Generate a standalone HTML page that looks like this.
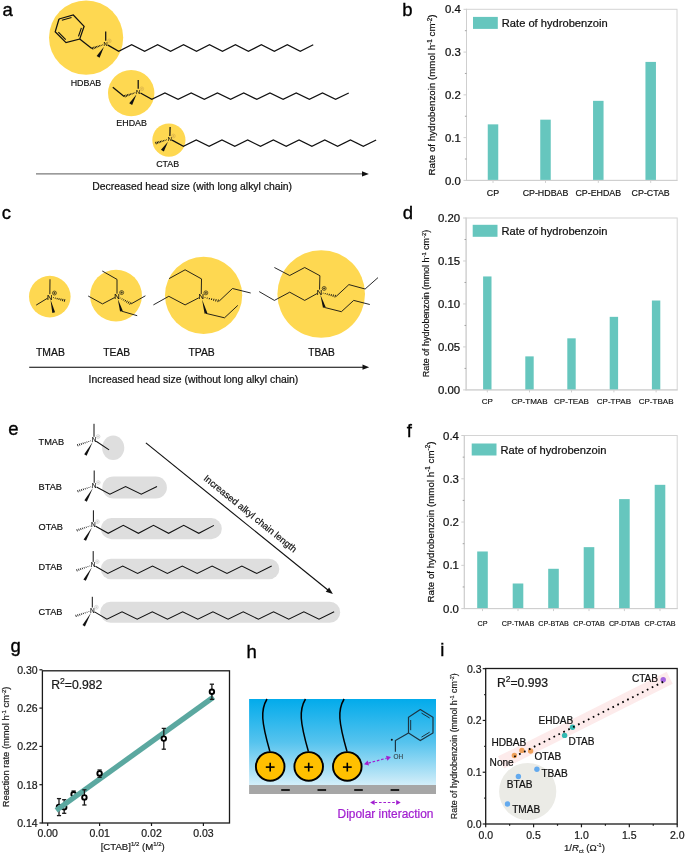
<!DOCTYPE html>
<html><head><meta charset="utf-8"><style>
html,body{margin:0;padding:0;background:#fff;}
svg{display:block;font-family:"Liberation Sans", sans-serif;will-change:transform;}
</style></head><body>
<svg width="685" height="856" viewBox="0 0 685 856">
<text x="2.6" y="16.1" font-size="18.5" text-anchor="start" fill="#000" font-weight="normal"  stroke="#000" stroke-width="0.35">a</text>
<circle cx="86.1" cy="37.6" r="37.1" fill="#FED851" />
<circle cx="131.2" cy="93.1" r="23.2" fill="#FED851" />
<circle cx="168.9" cy="140.1" r="16.6" fill="#FED851" />
<polyline points="59,19 73.3,15 84.1,26.3 79.7,39.1 66,42.6 55.2,31.8 59,19" fill="none" stroke="#111" stroke-width="1.25" stroke-linejoin="miter" />
<line x1="61.84" y1="20.27" x2="71.54" y2="17.56" stroke="#111" stroke-width="1.15" />
<line x1="81.38" y1="27.86" x2="78.47" y2="36.34" stroke="#111" stroke-width="1.15" />
<line x1="65.72" y1="39.57" x2="58.34" y2="32.2" stroke="#111" stroke-width="1.15" />
<line x1="79.7" y1="39.1" x2="91.8" y2="48.6" stroke="#111" stroke-width="1.25" />
<line x1="102.41" y1="44.55" x2="102.65" y2="45.24" stroke="#111" stroke-width="1" />
<line x1="100.94" y1="44.93" x2="101.26" y2="45.85" stroke="#111" stroke-width="1" />
<line x1="99.47" y1="45.3" x2="99.87" y2="46.46" stroke="#111" stroke-width="1" />
<line x1="98" y1="45.68" x2="98.48" y2="47.07" stroke="#111" stroke-width="1" />
<line x1="96.52" y1="46.06" x2="97.09" y2="47.69" stroke="#111" stroke-width="1" />
<line x1="95.05" y1="46.43" x2="95.7" y2="48.3" stroke="#111" stroke-width="1" />
<line x1="93.58" y1="46.81" x2="94.31" y2="48.91" stroke="#111" stroke-width="1" />
<line x1="92.11" y1="47.18" x2="92.92" y2="49.52" stroke="#111" stroke-width="1" />
<line x1="105.7" y1="40.8" x2="105.7" y2="31.4" stroke="#111" stroke-width="1.25" />
<polygon points="103.99,46.74 96.63,56.05 99.57,57.75" fill="#111" />
<polyline points="107.94,45.11 118.7,51.4 131.67,44.8 144.64,51.4 157.61,44.8 170.58,51.4 183.55,44.8 196.52,51.4 209.49,44.8 222.46,51.4 235.43,44.8 248.4,51.4 261.37,44.8 274.34,51.4 287.31,44.8 300.28,51.4 313.25,44.8" fill="none" stroke="#111" stroke-width="1.25" stroke-linejoin="miter" />
<text x="105.7" y="45.89" font-size="5.8" text-anchor="middle" fill="#111" font-weight="normal"  stroke="#111" stroke-width="0.122">N</text>
<circle cx="109.3" cy="40.9" r="1.9" fill="none" stroke="#c9a24a" stroke-width="0.45"/>
<line x1="108.16" y1="40.9" x2="110.44" y2="40.9" stroke="#c9a24a" stroke-width="0.45" />
<line x1="109.3" y1="39.76" x2="109.3" y2="42.04" stroke="#c9a24a" stroke-width="0.45" />
<text x="70.7" y="85.8" font-size="8.9" text-anchor="start" fill="#111" font-weight="normal"  stroke="#111" stroke-width="0.187">HDBAB</text>
<line x1="138.2" y1="88.7" x2="138.2" y2="80" stroke="#111" stroke-width="1.25" />
<line x1="134.89" y1="92.42" x2="135.12" y2="93.11" stroke="#111" stroke-width="1" />
<line x1="133.4" y1="92.79" x2="133.71" y2="93.71" stroke="#111" stroke-width="1" />
<line x1="131.9" y1="93.15" x2="132.29" y2="94.32" stroke="#111" stroke-width="1" />
<line x1="130.41" y1="93.52" x2="130.88" y2="94.92" stroke="#111" stroke-width="1" />
<line x1="128.92" y1="93.89" x2="129.46" y2="95.52" stroke="#111" stroke-width="1" />
<line x1="127.42" y1="94.25" x2="128.05" y2="96.13" stroke="#111" stroke-width="1" />
<line x1="125.93" y1="94.62" x2="126.63" y2="96.73" stroke="#111" stroke-width="1" />
<line x1="124.44" y1="94.98" x2="125.22" y2="97.33" stroke="#111" stroke-width="1" />
<line x1="124.1" y1="96.4" x2="112.8" y2="87.2" stroke="#111" stroke-width="1.25" />
<polygon points="136.44,94.61 129.25,103.22 132.15,104.98" fill="#111" />
<polyline points="140.46,92.98 151.8,99.4 164.93,93 178.06,99.4 191.19,93 204.32,99.4 217.45,93 230.58,99.4 243.71,93 256.84,99.4 269.97,93 283.1,99.4 296.23,93 309.36,99.4 322.49,93 335.62,99.4 348.75,93" fill="none" stroke="#111" stroke-width="1.25" stroke-linejoin="miter" />
<text x="138.2" y="93.79" font-size="5.8" text-anchor="middle" fill="#111" font-weight="normal"  stroke="#111" stroke-width="0.122">N</text>
<circle cx="141.8" cy="88.8" r="1.9" fill="none" stroke="#c9a24a" stroke-width="0.45"/>
<line x1="140.66" y1="88.8" x2="142.94" y2="88.8" stroke="#c9a24a" stroke-width="0.45" />
<line x1="141.8" y1="87.66" x2="141.8" y2="89.94" stroke="#c9a24a" stroke-width="0.45" />
<text x="116.3" y="126.4" font-size="8.9" text-anchor="start" fill="#111" font-weight="normal"  stroke="#111" stroke-width="0.187">EHDAB</text>
<line x1="169.88" y1="135.9" x2="170.1" y2="127" stroke="#111" stroke-width="1.25" />
<line x1="166.45" y1="139.53" x2="166.66" y2="140.23" stroke="#111" stroke-width="1" />
<line x1="164.9" y1="139.87" x2="165.18" y2="140.8" stroke="#111" stroke-width="1" />
<line x1="163.35" y1="140.2" x2="163.7" y2="141.38" stroke="#111" stroke-width="1" />
<line x1="161.8" y1="140.54" x2="162.23" y2="141.95" stroke="#111" stroke-width="1" />
<line x1="160.25" y1="140.88" x2="160.75" y2="142.53" stroke="#111" stroke-width="1" />
<line x1="158.7" y1="141.21" x2="159.27" y2="143.1" stroke="#111" stroke-width="1" />
<line x1="157.15" y1="141.55" x2="157.79" y2="143.68" stroke="#111" stroke-width="1" />
<line x1="155.6" y1="141.89" x2="156.31" y2="144.26" stroke="#111" stroke-width="1" />
<polygon points="167.98,141.77 160.96,149.69 163.84,151.51" fill="#111" />
<polyline points="172.08,140.14 183.4,146.3 196.25,140 209.1,146.3 221.95,140 234.8,146.3 247.65,140 260.5,146.3 273.35,140 286.2,146.3 299.05,140 311.9,146.3 324.75,140 337.6,146.3 350.45,140 363.3,146.3 376.15,140" fill="none" stroke="#111" stroke-width="1.25" stroke-linejoin="miter" />
<text x="169.8" y="140.99" font-size="5.8" text-anchor="middle" fill="#111" font-weight="normal"  stroke="#111" stroke-width="0.122">N</text>
<circle cx="173.4" cy="136" r="1.9" fill="none" stroke="#c9a24a" stroke-width="0.45"/>
<line x1="172.26" y1="136" x2="174.54" y2="136" stroke="#c9a24a" stroke-width="0.45" />
<line x1="173.4" y1="134.86" x2="173.4" y2="137.14" stroke="#c9a24a" stroke-width="0.45" />
<text x="156.2" y="167.4" font-size="8.9" text-anchor="start" fill="#111" font-weight="normal"  stroke="#111" stroke-width="0.187">CTAB</text>
<line x1="36" y1="173.9" x2="363" y2="173.9" stroke="#7a7a7a" stroke-width="1.4" />
<polygon points="362,171.2 368.9,173.9 362,176.6" fill="#111" />
<text x="92.2" y="190.1" font-size="10.4" text-anchor="start" fill="#111" font-weight="normal"  stroke="#111" stroke-width="0.218">Decreased head size (with long alkyl chain)</text>
<text x="402.2" y="16.1" font-size="18.5" text-anchor="start" fill="#000" font-weight="normal"  stroke="#000" stroke-width="0.35">b</text>
<rect x="466.5" y="9.3" width="210.5" height="171.1" fill="none" stroke="#d4d4d4" stroke-width="1"/>
<line x1="466.5" y1="8.8" x2="466.5" y2="180.9" stroke="#cfcfcf" stroke-width="1" />
<line x1="466" y1="180.4" x2="677.5" y2="180.4" stroke="#cfcfcf" stroke-width="1" />
<line x1="463.5" y1="180.4" x2="466.5" y2="180.4" stroke="#cfcfcf" stroke-width="1" />
<text x="460.8" y="184.5" font-size="11.4" text-anchor="end" fill="#111" font-weight="normal"  stroke="#111" stroke-width="0.239">0.0</text>
<line x1="463.5" y1="137.62" x2="466.5" y2="137.62" stroke="#cfcfcf" stroke-width="1" />
<text x="460.8" y="141.73" font-size="11.4" text-anchor="end" fill="#111" font-weight="normal"  stroke="#111" stroke-width="0.239">0.1</text>
<line x1="463.5" y1="94.85" x2="466.5" y2="94.85" stroke="#cfcfcf" stroke-width="1" />
<text x="460.8" y="98.95" font-size="11.4" text-anchor="end" fill="#111" font-weight="normal"  stroke="#111" stroke-width="0.239">0.2</text>
<line x1="463.5" y1="52.08" x2="466.5" y2="52.08" stroke="#cfcfcf" stroke-width="1" />
<text x="460.8" y="56.18" font-size="11.4" text-anchor="end" fill="#111" font-weight="normal"  stroke="#111" stroke-width="0.239">0.3</text>
<line x1="463.5" y1="9.3" x2="466.5" y2="9.3" stroke="#cfcfcf" stroke-width="1" />
<text x="460.8" y="13.4" font-size="11.4" text-anchor="end" fill="#111" font-weight="normal"  stroke="#111" stroke-width="0.239">0.4</text>
<line x1="464.9" y1="159.01" x2="466.5" y2="159.01" stroke="#999" stroke-width="0.9" />
<line x1="464.9" y1="116.24" x2="466.5" y2="116.24" stroke="#999" stroke-width="0.9" />
<line x1="464.9" y1="73.46" x2="466.5" y2="73.46" stroke="#999" stroke-width="0.9" />
<line x1="464.9" y1="30.69" x2="466.5" y2="30.69" stroke="#999" stroke-width="0.9" />
<rect x="487.75" y="124.36" width="10.5" height="55.54" fill="#66C6BE"/>
<line x1="493" y1="180.4" x2="493" y2="182.9" stroke="#cfcfcf" stroke-width="1" />
<text x="493" y="196.1" font-size="8.85" text-anchor="middle" fill="#111" font-weight="normal"  stroke="#111" stroke-width="0.186">CP</text>
<rect x="540.25" y="119.66" width="10.5" height="60.24" fill="#66C6BE"/>
<line x1="545.5" y1="180.4" x2="545.5" y2="182.9" stroke="#cfcfcf" stroke-width="1" />
<text x="545.5" y="196.1" font-size="8.85" text-anchor="middle" fill="#111" font-weight="normal"  stroke="#111" stroke-width="0.186">CP-HDBAB</text>
<rect x="593.05" y="100.84" width="10.5" height="79.06" fill="#66C6BE"/>
<line x1="598.3" y1="180.4" x2="598.3" y2="182.9" stroke="#cfcfcf" stroke-width="1" />
<text x="598.3" y="196.1" font-size="8.85" text-anchor="middle" fill="#111" font-weight="normal"  stroke="#111" stroke-width="0.186">CP-EHDAB</text>
<rect x="645.45" y="61.91" width="10.5" height="117.99" fill="#66C6BE"/>
<line x1="650.7" y1="180.4" x2="650.7" y2="182.9" stroke="#cfcfcf" stroke-width="1" />
<text x="650.7" y="196.1" font-size="8.85" text-anchor="middle" fill="#111" font-weight="normal"  stroke="#111" stroke-width="0.186">CP-CTAB</text>
<rect x="473" y="16.9" width="24.8" height="12" fill="#66C6BE"/>
<text x="501.8" y="27.1" font-size="11.15" text-anchor="start" fill="#111" font-weight="normal"  stroke="#111" stroke-width="0.234">Rate of hydrobenzoin</text>
<text transform="translate(435.4,95) rotate(-90)" font-size="9.75" text-anchor="middle" fill="#111" stroke="#111" stroke-width="0.205">Rate of hydrobenzoin (mmol h<tspan dy="-3.71" font-size="6.34">-1</tspan><tspan dy="3.71"> cm</tspan><tspan dy="-3.71" font-size="6.34">-2</tspan><tspan dy="3.71">)</tspan></text>
<text x="402.8" y="218.7" font-size="18.5" text-anchor="start" fill="#000" font-weight="normal"  stroke="#000" stroke-width="0.35">d</text>
<rect x="466.1" y="218" width="211.1" height="171.9" fill="none" stroke="#d4d4d4" stroke-width="1"/>
<line x1="466.1" y1="217.5" x2="466.1" y2="390.4" stroke="#cfcfcf" stroke-width="1" />
<line x1="465.6" y1="389.9" x2="677.7" y2="389.9" stroke="#cfcfcf" stroke-width="1" />
<line x1="463.1" y1="389.9" x2="466.1" y2="389.9" stroke="#cfcfcf" stroke-width="1" />
<text x="460.2" y="394" font-size="11.4" text-anchor="end" fill="#111" font-weight="normal"  stroke="#111" stroke-width="0.239">0.00</text>
<line x1="463.1" y1="346.92" x2="466.1" y2="346.92" stroke="#cfcfcf" stroke-width="1" />
<text x="460.2" y="351.03" font-size="11.4" text-anchor="end" fill="#111" font-weight="normal"  stroke="#111" stroke-width="0.239">0.05</text>
<line x1="463.1" y1="303.95" x2="466.1" y2="303.95" stroke="#cfcfcf" stroke-width="1" />
<text x="460.2" y="308.05" font-size="11.4" text-anchor="end" fill="#111" font-weight="normal"  stroke="#111" stroke-width="0.239">0.10</text>
<line x1="463.1" y1="260.98" x2="466.1" y2="260.98" stroke="#cfcfcf" stroke-width="1" />
<text x="460.2" y="265.08" font-size="11.4" text-anchor="end" fill="#111" font-weight="normal"  stroke="#111" stroke-width="0.239">0.15</text>
<line x1="463.1" y1="218" x2="466.1" y2="218" stroke="#cfcfcf" stroke-width="1" />
<text x="460.2" y="222.1" font-size="11.4" text-anchor="end" fill="#111" font-weight="normal"  stroke="#111" stroke-width="0.239">0.20</text>
<line x1="464.5" y1="368.41" x2="466.1" y2="368.41" stroke="#999" stroke-width="0.9" />
<line x1="464.5" y1="325.44" x2="466.1" y2="325.44" stroke="#999" stroke-width="0.9" />
<line x1="464.5" y1="282.46" x2="466.1" y2="282.46" stroke="#999" stroke-width="0.9" />
<line x1="464.5" y1="239.49" x2="466.1" y2="239.49" stroke="#999" stroke-width="0.9" />
<rect x="483.1" y="276.45" width="8.4" height="112.95" fill="#66C6BE"/>
<line x1="487.3" y1="389.9" x2="487.3" y2="392.4" stroke="#cfcfcf" stroke-width="1" />
<text x="487.3" y="403.5" font-size="8.05" text-anchor="middle" fill="#111" font-weight="normal"  stroke="#111" stroke-width="0.169">CP</text>
<rect x="525.3" y="356.38" width="8.4" height="33.02" fill="#66C6BE"/>
<line x1="529.5" y1="389.9" x2="529.5" y2="392.4" stroke="#cfcfcf" stroke-width="1" />
<text x="529.5" y="403.5" font-size="8.05" text-anchor="middle" fill="#111" font-weight="normal"  stroke="#111" stroke-width="0.169">CP-TMAB</text>
<rect x="567.3" y="338.33" width="8.4" height="51.07" fill="#66C6BE"/>
<line x1="571.5" y1="389.9" x2="571.5" y2="392.4" stroke="#cfcfcf" stroke-width="1" />
<text x="571.5" y="403.5" font-size="8.05" text-anchor="middle" fill="#111" font-weight="normal"  stroke="#111" stroke-width="0.169">CP-TEAB</text>
<rect x="609.7" y="316.84" width="8.4" height="72.56" fill="#66C6BE"/>
<line x1="613.9" y1="389.9" x2="613.9" y2="392.4" stroke="#cfcfcf" stroke-width="1" />
<text x="613.9" y="403.5" font-size="8.05" text-anchor="middle" fill="#111" font-weight="normal"  stroke="#111" stroke-width="0.169">CP-TPAB</text>
<rect x="651.9" y="300.51" width="8.4" height="88.89" fill="#66C6BE"/>
<line x1="656.1" y1="389.9" x2="656.1" y2="392.4" stroke="#cfcfcf" stroke-width="1" />
<text x="656.1" y="403.5" font-size="8.05" text-anchor="middle" fill="#111" font-weight="normal"  stroke="#111" stroke-width="0.169">CP-TBAB</text>
<rect x="472.7" y="224.8" width="24.8" height="12" fill="#66C6BE"/>
<text x="501.5" y="235" font-size="11.15" text-anchor="start" fill="#111" font-weight="normal"  stroke="#111" stroke-width="0.234">Rate of hydrobenzoin</text>
<text transform="translate(429,303.5) rotate(-90)" font-size="8.95" text-anchor="middle" fill="#111" stroke="#111" stroke-width="0.188">Rate of hydrobenzoin (mmol h<tspan dy="-3.4" font-size="5.82">-1</tspan><tspan dy="3.4"> cm</tspan><tspan dy="-3.4" font-size="5.82">-2</tspan><tspan dy="3.4">)</tspan></text>
<text x="406.7" y="436.6" font-size="18.5" text-anchor="start" fill="#000" font-weight="normal"  stroke="#000" stroke-width="0.35">f</text>
<rect x="464.3" y="435.5" width="212.9" height="173.1" fill="none" stroke="#d4d4d4" stroke-width="1"/>
<line x1="464.3" y1="435" x2="464.3" y2="609.1" stroke="#cfcfcf" stroke-width="1" />
<line x1="463.8" y1="608.6" x2="677.7" y2="608.6" stroke="#cfcfcf" stroke-width="1" />
<line x1="461.3" y1="608.6" x2="464.3" y2="608.6" stroke="#cfcfcf" stroke-width="1" />
<text x="458.9" y="612.7" font-size="11.4" text-anchor="end" fill="#111" font-weight="normal"  stroke="#111" stroke-width="0.239">0.0</text>
<line x1="461.3" y1="565.33" x2="464.3" y2="565.33" stroke="#cfcfcf" stroke-width="1" />
<text x="458.9" y="569.43" font-size="11.4" text-anchor="end" fill="#111" font-weight="normal"  stroke="#111" stroke-width="0.239">0.1</text>
<line x1="461.3" y1="522.05" x2="464.3" y2="522.05" stroke="#cfcfcf" stroke-width="1" />
<text x="458.9" y="526.15" font-size="11.4" text-anchor="end" fill="#111" font-weight="normal"  stroke="#111" stroke-width="0.239">0.2</text>
<line x1="461.3" y1="478.77" x2="464.3" y2="478.77" stroke="#cfcfcf" stroke-width="1" />
<text x="458.9" y="482.88" font-size="11.4" text-anchor="end" fill="#111" font-weight="normal"  stroke="#111" stroke-width="0.239">0.3</text>
<line x1="461.3" y1="435.5" x2="464.3" y2="435.5" stroke="#cfcfcf" stroke-width="1" />
<text x="458.9" y="439.6" font-size="11.4" text-anchor="end" fill="#111" font-weight="normal"  stroke="#111" stroke-width="0.239">0.4</text>
<line x1="462.7" y1="586.96" x2="464.3" y2="586.96" stroke="#999" stroke-width="0.9" />
<line x1="462.7" y1="543.69" x2="464.3" y2="543.69" stroke="#999" stroke-width="0.9" />
<line x1="462.7" y1="500.41" x2="464.3" y2="500.41" stroke="#999" stroke-width="0.9" />
<line x1="462.7" y1="457.14" x2="464.3" y2="457.14" stroke="#999" stroke-width="0.9" />
<rect x="477.2" y="551.48" width="10.6" height="56.62" fill="#66C6BE"/>
<line x1="482.5" y1="608.6" x2="482.5" y2="611.1" stroke="#cfcfcf" stroke-width="1" />
<text x="482.5" y="626.1" font-size="7.2" text-anchor="middle" fill="#111" font-weight="normal"  stroke="#111" stroke-width="0.151">CP</text>
<rect x="512.7" y="583.5" width="10.6" height="24.6" fill="#66C6BE"/>
<line x1="518" y1="608.6" x2="518" y2="611.1" stroke="#cfcfcf" stroke-width="1" />
<text x="518" y="626.1" font-size="7.2" text-anchor="middle" fill="#111" font-weight="normal"  stroke="#111" stroke-width="0.151">CP-TMAB</text>
<rect x="548.2" y="568.79" width="10.6" height="39.31" fill="#66C6BE"/>
<line x1="553.5" y1="608.6" x2="553.5" y2="611.1" stroke="#cfcfcf" stroke-width="1" />
<text x="553.5" y="626.1" font-size="7.2" text-anchor="middle" fill="#111" font-weight="normal"  stroke="#111" stroke-width="0.151">CP-BTAB</text>
<rect x="583.7" y="547.15" width="10.6" height="60.95" fill="#66C6BE"/>
<line x1="589" y1="608.6" x2="589" y2="611.1" stroke="#cfcfcf" stroke-width="1" />
<text x="589" y="626.1" font-size="7.2" text-anchor="middle" fill="#111" font-weight="normal"  stroke="#111" stroke-width="0.151">CP-OTAB</text>
<rect x="619.1" y="499.11" width="10.6" height="108.99" fill="#66C6BE"/>
<line x1="624.4" y1="608.6" x2="624.4" y2="611.1" stroke="#cfcfcf" stroke-width="1" />
<text x="624.4" y="626.1" font-size="7.2" text-anchor="middle" fill="#111" font-weight="normal"  stroke="#111" stroke-width="0.151">CP-DTAB</text>
<rect x="654.7" y="484.83" width="10.6" height="123.27" fill="#66C6BE"/>
<line x1="660" y1="608.6" x2="660" y2="611.1" stroke="#cfcfcf" stroke-width="1" />
<text x="660" y="626.1" font-size="7.2" text-anchor="middle" fill="#111" font-weight="normal"  stroke="#111" stroke-width="0.151">CP-CTAB</text>
<rect x="471.7" y="443.5" width="24.8" height="12" fill="#66C6BE"/>
<text x="500.5" y="453.7" font-size="11.15" text-anchor="start" fill="#111" font-weight="normal"  stroke="#111" stroke-width="0.234">Rate of hydrobenzoin</text>
<text transform="translate(434.2,522) rotate(-90)" font-size="9.75" text-anchor="middle" fill="#111" stroke="#111" stroke-width="0.205">Rate of hydrobenzoin (mmol h<tspan dy="-3.71" font-size="6.34">-1</tspan><tspan dy="3.71"> cm</tspan><tspan dy="-3.71" font-size="6.34">-2</tspan><tspan dy="3.71">)</tspan></text>
<text x="1.8" y="219" font-size="18.5" text-anchor="start" fill="#000" font-weight="normal"  stroke="#000" stroke-width="0.35">c</text>
<circle cx="49.8" cy="296.6" r="20.8" fill="#FED851" />
<circle cx="116" cy="295.6" r="25.9" fill="#FED851" />
<circle cx="203.6" cy="295.3" r="38.6" fill="#FED851" />
<circle cx="321.2" cy="294" r="43.8" fill="#FED851" />
<polyline points="49.83,294.2 50,279.3" fill="none" stroke="#111" stroke-width="0.9" stroke-linejoin="miter" />
<polyline points="47.58,298.15 36.2,305.1" fill="none" stroke="#111" stroke-width="0.9" stroke-linejoin="miter" />
<line x1="53.35" y1="298.07" x2="53.54" y2="297.34" stroke="#111" stroke-width="0.95" />
<line x1="55.17" y1="298.69" x2="55.43" y2="297.65" stroke="#111" stroke-width="0.95" />
<line x1="56.99" y1="299.3" x2="57.32" y2="297.95" stroke="#111" stroke-width="0.95" />
<line x1="58.8" y1="299.91" x2="59.21" y2="298.26" stroke="#111" stroke-width="0.95" />
<line x1="60.62" y1="300.53" x2="61.11" y2="298.57" stroke="#111" stroke-width="0.95" />
<line x1="62.44" y1="301.14" x2="63" y2="298.88" stroke="#111" stroke-width="0.95" />
<line x1="64.25" y1="301.75" x2="64.89" y2="299.19" stroke="#111" stroke-width="0.95" />
<polygon points="50.47,299.52 52.34,312.94 55.06,312.26" fill="#111" />
<text x="49.8" y="299.5" font-size="7.5" text-anchor="middle" fill="#111" font-weight="normal"  stroke="#111" stroke-width="0.158">N</text>
<circle cx="54.45" cy="293.05" r="2" fill="none" stroke="#111" stroke-width="0.6"/>
<line x1="53.25" y1="293.05" x2="55.65" y2="293.05" stroke="#111" stroke-width="0.6" />
<line x1="54.45" y1="291.85" x2="54.45" y2="294.25" stroke="#111" stroke-width="0.6" />
<polyline points="117,293.7 117,279.4 102.3,271" fill="none" stroke="#111" stroke-width="0.9" stroke-linejoin="miter" />
<polyline points="114.7,297.51 102.5,303.9 88.2,296" fill="none" stroke="#111" stroke-width="0.9" stroke-linejoin="miter" />
<line x1="120.12" y1="298.41" x2="120.48" y2="297.74" stroke="#111" stroke-width="0.95" />
<line x1="121.7" y1="299.44" x2="122.21" y2="298.5" stroke="#111" stroke-width="0.95" />
<line x1="123.29" y1="300.48" x2="123.95" y2="299.26" stroke="#111" stroke-width="0.95" />
<line x1="124.88" y1="301.51" x2="125.69" y2="300.02" stroke="#111" stroke-width="0.95" />
<line x1="126.47" y1="302.55" x2="127.42" y2="300.77" stroke="#111" stroke-width="0.95" />
<line x1="128.05" y1="303.58" x2="129.16" y2="301.53" stroke="#111" stroke-width="0.95" />
<line x1="129.64" y1="304.62" x2="130.9" y2="302.29" stroke="#111" stroke-width="0.95" />
<polyline points="131.1,303.9 145.4,295.8" fill="none" stroke="#111" stroke-width="0.9" stroke-linejoin="miter" />
<polygon points="117.8,298.98 120.06,311.5 122.74,310.7" fill="#111" />
<polyline points="121.4,311.1 137.2,315.7" fill="none" stroke="#111" stroke-width="0.9" stroke-linejoin="miter" />
<text x="117" y="299" font-size="7.5" text-anchor="middle" fill="#111" font-weight="normal"  stroke="#111" stroke-width="0.158">N</text>
<circle cx="121.65" cy="292.55" r="2" fill="none" stroke="#111" stroke-width="0.6"/>
<line x1="120.45" y1="292.55" x2="122.85" y2="292.55" stroke="#111" stroke-width="0.6" />
<line x1="121.65" y1="291.35" x2="121.65" y2="293.75" stroke="#111" stroke-width="0.6" />
<polyline points="201.24,294 201.5,278.9 185.1,269.8 169.1,278.6" fill="none" stroke="#111" stroke-width="0.9" stroke-linejoin="miter" />
<polyline points="198.89,297.79 185.1,304.9 168.8,296.3 153.4,304.9" fill="none" stroke="#111" stroke-width="0.9" stroke-linejoin="miter" />
<line x1="204.92" y1="297.92" x2="205.1" y2="297.18" stroke="#111" stroke-width="0.95" />
<line x1="207.06" y1="298.62" x2="207.32" y2="297.58" stroke="#111" stroke-width="0.95" />
<line x1="209.21" y1="299.32" x2="209.54" y2="297.97" stroke="#111" stroke-width="0.95" />
<line x1="211.35" y1="300.01" x2="211.76" y2="298.36" stroke="#111" stroke-width="0.95" />
<line x1="213.5" y1="300.71" x2="213.99" y2="298.76" stroke="#111" stroke-width="0.95" />
<line x1="215.64" y1="301.41" x2="216.21" y2="299.15" stroke="#111" stroke-width="0.95" />
<line x1="217.79" y1="302.11" x2="218.43" y2="299.55" stroke="#111" stroke-width="0.95" />
<polyline points="219.2,301.1 232.5,288.5 250.7,293" fill="none" stroke="#111" stroke-width="0.9" stroke-linejoin="miter" />
<polygon points="201.97,299.29 204.65,313.78 207.35,313.02" fill="#111" />
<polyline points="206,313.4 224.5,317.8 237.8,305.4" fill="none" stroke="#111" stroke-width="0.9" stroke-linejoin="miter" />
<text x="201.2" y="299.3" font-size="7.5" text-anchor="middle" fill="#111" font-weight="normal"  stroke="#111" stroke-width="0.158">N</text>
<circle cx="205.85" cy="292.85" r="2" fill="none" stroke="#111" stroke-width="0.6"/>
<line x1="204.65" y1="292.85" x2="207.05" y2="292.85" stroke="#111" stroke-width="0.6" />
<line x1="205.85" y1="291.65" x2="205.85" y2="294.05" stroke="#111" stroke-width="0.6" />
<polyline points="319.56,289.6 319.9,275.7 304.7,267.5 289.7,275.5 274.4,267.5" fill="none" stroke="#111" stroke-width="0.9" stroke-linejoin="miter" />
<polyline points="317.23,293.46 304.7,300.4 289.7,292.2 274.4,300.4 259.2,291.6" fill="none" stroke="#111" stroke-width="0.9" stroke-linejoin="miter" />
<line x1="323.12" y1="293.5" x2="323.31" y2="292.77" stroke="#111" stroke-width="0.95" />
<line x1="325.08" y1="294.16" x2="325.34" y2="293.12" stroke="#111" stroke-width="0.95" />
<line x1="327.04" y1="294.81" x2="327.38" y2="293.47" stroke="#111" stroke-width="0.95" />
<line x1="329" y1="295.47" x2="329.42" y2="293.82" stroke="#111" stroke-width="0.95" />
<line x1="330.96" y1="296.12" x2="331.45" y2="294.17" stroke="#111" stroke-width="0.95" />
<line x1="332.92" y1="296.78" x2="333.49" y2="294.52" stroke="#111" stroke-width="0.95" />
<line x1="334.88" y1="297.43" x2="335.52" y2="294.87" stroke="#111" stroke-width="0.95" />
<polyline points="336.2,296.4 348.9,284.6 365.1,289 378,277.6" fill="none" stroke="#111" stroke-width="0.9" stroke-linejoin="miter" />
<polygon points="320.34,294.87 322.96,307.82 325.64,306.98" fill="#111" />
<polyline points="324.3,307.4 341.4,311.7 353.7,300.4 369.8,304.5" fill="none" stroke="#111" stroke-width="0.9" stroke-linejoin="miter" />
<text x="319.5" y="294.9" font-size="7.5" text-anchor="middle" fill="#111" font-weight="normal"  stroke="#111" stroke-width="0.158">N</text>
<circle cx="324.15" cy="288.45" r="2" fill="none" stroke="#111" stroke-width="0.6"/>
<line x1="322.95" y1="288.45" x2="325.35" y2="288.45" stroke="#111" stroke-width="0.6" />
<line x1="324.15" y1="287.25" x2="324.15" y2="289.65" stroke="#111" stroke-width="0.6" />
<text x="36" y="355.7" font-size="10.4" text-anchor="start" fill="#111" font-weight="normal"  stroke="#111" stroke-width="0.218">TMAB</text>
<text x="103.3" y="355.7" font-size="10.3" text-anchor="start" fill="#111" font-weight="normal"  stroke="#111" stroke-width="0.216">TEAB</text>
<text x="188.4" y="355.7" font-size="10.4" text-anchor="start" fill="#111" font-weight="normal"  stroke="#111" stroke-width="0.218">TPAB</text>
<text x="308.2" y="355.7" font-size="10.2" text-anchor="start" fill="#111" font-weight="normal"  stroke="#111" stroke-width="0.214">TBAB</text>
<line x1="29.2" y1="367.2" x2="363.5" y2="367.2" stroke="#000" stroke-width="1.1" />
<polygon points="362.5,364.6 369.2,367.2 362.5,369.8" fill="#111" />
<text x="88.6" y="383.3" font-size="10.4" text-anchor="start" fill="#111" font-weight="normal"  stroke="#111" stroke-width="0.218">Increased head size (without long alkyl chain)</text>
<text x="8.2" y="434.7" font-size="18.5" text-anchor="start" fill="#000" font-weight="normal"  stroke="#000" stroke-width="0.35">e</text>
<ellipse cx="113.2" cy="447.8" rx="11.1" ry="12.2" fill="#DEDEDE"/>
<rect x="102.3" y="476.4" width="64.6" height="22.1" rx="11.05" fill="#DEDEDE"/>
<rect x="101" y="518.1" width="120.8" height="21.1" rx="10.55" fill="#DEDEDE"/>
<rect x="100.8" y="558.7" width="178.5" height="20.5" rx="10.25" fill="#DEDEDE"/>
<rect x="100.2" y="601.8" width="240" height="20.9" rx="10.45" fill="#DEDEDE"/>
<line x1="94" y1="436.8" x2="94" y2="423.8" stroke="#111" stroke-width="1" />
<line x1="90.5" y1="440.58" x2="90.72" y2="441.26" stroke="#111" stroke-width="0.85" />
<line x1="88.62" y1="441.09" x2="88.92" y2="441.98" stroke="#111" stroke-width="0.85" />
<line x1="86.75" y1="441.59" x2="87.11" y2="442.7" stroke="#111" stroke-width="0.85" />
<line x1="84.87" y1="442.1" x2="85.3" y2="443.41" stroke="#111" stroke-width="0.85" />
<line x1="82.99" y1="442.6" x2="83.5" y2="444.13" stroke="#111" stroke-width="0.85" />
<line x1="81.11" y1="443.1" x2="81.69" y2="444.85" stroke="#111" stroke-width="0.85" />
<line x1="79.24" y1="443.61" x2="79.89" y2="445.56" stroke="#111" stroke-width="0.85" />
<line x1="77.36" y1="444.11" x2="78.08" y2="446.28" stroke="#111" stroke-width="0.85" />
<polygon points="92.72,442.06 84.18,454.31 86.62,455.69" fill="#111" />
<polyline points="96.16,441.25 109.1,449.9" fill="none" stroke="#111" stroke-width="1.05" stroke-linejoin="miter" />
<text x="94" y="442.14" font-size="6.5" text-anchor="middle" fill="#111" font-weight="normal"  stroke="#111" stroke-width="0.137">N</text>
<circle cx="98.03" cy="436.55" r="1.9" fill="none" stroke="#aaa" stroke-width="0.4"/>
<line x1="96.89" y1="436.55" x2="99.17" y2="436.55" stroke="#aaa" stroke-width="0.4" />
<line x1="98.03" y1="435.41" x2="98.03" y2="437.69" stroke="#aaa" stroke-width="0.4" />
<text transform="translate(38.6,444.6) scale(1,1.07)" font-size="9.2" fill="#111" stroke="#111" stroke-width="0.193">TMAB</text>
<line x1="94.2" y1="482.8" x2="94.2" y2="470.5" stroke="#111" stroke-width="1" />
<line x1="90.7" y1="486.58" x2="90.92" y2="487.26" stroke="#111" stroke-width="0.85" />
<line x1="88.82" y1="487.09" x2="89.12" y2="487.98" stroke="#111" stroke-width="0.85" />
<line x1="86.95" y1="487.59" x2="87.31" y2="488.7" stroke="#111" stroke-width="0.85" />
<line x1="85.07" y1="488.1" x2="85.5" y2="489.41" stroke="#111" stroke-width="0.85" />
<line x1="83.19" y1="488.6" x2="83.7" y2="490.13" stroke="#111" stroke-width="0.85" />
<line x1="81.31" y1="489.1" x2="81.89" y2="490.85" stroke="#111" stroke-width="0.85" />
<line x1="79.44" y1="489.61" x2="80.09" y2="491.56" stroke="#111" stroke-width="0.85" />
<line x1="77.56" y1="490.11" x2="78.28" y2="492.28" stroke="#111" stroke-width="0.85" />
<polygon points="92.92,488.06 84.38,500.31 86.82,501.69" fill="#111" />
<polyline points="96.5,487.02 109.9,494.1 125.6,486.5 141.3,494.1 157,486.5" fill="none" stroke="#111" stroke-width="1.05" stroke-linejoin="miter" />
<text x="94.2" y="488.14" font-size="6.5" text-anchor="middle" fill="#111" font-weight="normal"  stroke="#111" stroke-width="0.137">N</text>
<circle cx="98.23" cy="482.55" r="1.9" fill="none" stroke="#aaa" stroke-width="0.4"/>
<line x1="97.09" y1="482.55" x2="99.37" y2="482.55" stroke="#aaa" stroke-width="0.4" />
<line x1="98.23" y1="481.41" x2="98.23" y2="483.69" stroke="#aaa" stroke-width="0.4" />
<text transform="translate(38.6,490.2) scale(1,1.07)" font-size="9.2" fill="#111" stroke="#111" stroke-width="0.193">BTAB</text>
<line x1="93.4" y1="521.9" x2="93.4" y2="510.3" stroke="#111" stroke-width="1" />
<line x1="89.9" y1="525.68" x2="90.12" y2="526.36" stroke="#111" stroke-width="0.85" />
<line x1="88.02" y1="526.19" x2="88.32" y2="527.08" stroke="#111" stroke-width="0.85" />
<line x1="86.15" y1="526.69" x2="86.51" y2="527.8" stroke="#111" stroke-width="0.85" />
<line x1="84.27" y1="527.2" x2="84.7" y2="528.51" stroke="#111" stroke-width="0.85" />
<line x1="82.39" y1="527.7" x2="82.9" y2="529.23" stroke="#111" stroke-width="0.85" />
<line x1="80.51" y1="528.2" x2="81.09" y2="529.95" stroke="#111" stroke-width="0.85" />
<line x1="78.64" y1="528.71" x2="79.29" y2="530.66" stroke="#111" stroke-width="0.85" />
<line x1="76.76" y1="529.21" x2="77.48" y2="531.38" stroke="#111" stroke-width="0.85" />
<polygon points="92.12,527.16 83.58,539.41 86.02,540.79" fill="#111" />
<polyline points="95.66,526.18 108.2,533.3 123.3,525.4 138.4,533.3 153.5,525.4 168.6,533.3 183.7,525.4 198.8,533.3 213.9,525.4" fill="none" stroke="#111" stroke-width="1.05" stroke-linejoin="miter" />
<text x="93.4" y="527.24" font-size="6.5" text-anchor="middle" fill="#111" font-weight="normal"  stroke="#111" stroke-width="0.137">N</text>
<circle cx="97.43" cy="521.65" r="1.9" fill="none" stroke="#aaa" stroke-width="0.4"/>
<line x1="96.29" y1="521.65" x2="98.57" y2="521.65" stroke="#aaa" stroke-width="0.4" />
<line x1="97.43" y1="520.51" x2="97.43" y2="522.79" stroke="#aaa" stroke-width="0.4" />
<text transform="translate(38.6,530.4) scale(1,1.07)" font-size="9.2" fill="#111" stroke="#111" stroke-width="0.193">OTAB</text>
<line x1="93.2" y1="561.9" x2="93.2" y2="551.1" stroke="#111" stroke-width="1" />
<line x1="89.7" y1="565.68" x2="89.92" y2="566.36" stroke="#111" stroke-width="0.85" />
<line x1="87.82" y1="566.19" x2="88.12" y2="567.08" stroke="#111" stroke-width="0.85" />
<line x1="85.95" y1="566.69" x2="86.31" y2="567.8" stroke="#111" stroke-width="0.85" />
<line x1="84.07" y1="567.2" x2="84.5" y2="568.51" stroke="#111" stroke-width="0.85" />
<line x1="82.19" y1="567.7" x2="82.7" y2="569.23" stroke="#111" stroke-width="0.85" />
<line x1="80.31" y1="568.2" x2="80.89" y2="569.95" stroke="#111" stroke-width="0.85" />
<line x1="78.44" y1="568.71" x2="79.09" y2="570.66" stroke="#111" stroke-width="0.85" />
<line x1="76.56" y1="569.21" x2="77.28" y2="571.38" stroke="#111" stroke-width="0.85" />
<polygon points="91.92,567.16 83.38,579.41 85.82,580.79" fill="#111" />
<polyline points="95.44,566.22 107.8,573.5 122.7,566 137.6,573.5 152.5,566 167.4,573.5 182.3,566 197.2,573.5 212.1,566 227,573.5 241.9,566 256.8,573.5 271.7,566" fill="none" stroke="#111" stroke-width="1.05" stroke-linejoin="miter" />
<text x="93.2" y="567.24" font-size="6.5" text-anchor="middle" fill="#111" font-weight="normal"  stroke="#111" stroke-width="0.137">N</text>
<circle cx="97.23" cy="561.65" r="1.9" fill="none" stroke="#aaa" stroke-width="0.4"/>
<line x1="96.09" y1="561.65" x2="98.37" y2="561.65" stroke="#aaa" stroke-width="0.4" />
<line x1="97.23" y1="560.51" x2="97.23" y2="562.79" stroke="#aaa" stroke-width="0.4" />
<text transform="translate(38.6,570.1) scale(1,1.07)" font-size="9.2" fill="#111" stroke="#111" stroke-width="0.193">DTAB</text>
<line x1="92.3" y1="607.5" x2="92.3" y2="596.8" stroke="#111" stroke-width="1" />
<line x1="88.8" y1="611.28" x2="89.02" y2="611.96" stroke="#111" stroke-width="0.85" />
<line x1="86.92" y1="611.79" x2="87.22" y2="612.68" stroke="#111" stroke-width="0.85" />
<line x1="85.05" y1="612.29" x2="85.41" y2="613.4" stroke="#111" stroke-width="0.85" />
<line x1="83.17" y1="612.8" x2="83.6" y2="614.11" stroke="#111" stroke-width="0.85" />
<line x1="81.29" y1="613.3" x2="81.8" y2="614.83" stroke="#111" stroke-width="0.85" />
<line x1="79.41" y1="613.8" x2="79.99" y2="615.55" stroke="#111" stroke-width="0.85" />
<line x1="77.54" y1="614.31" x2="78.19" y2="616.26" stroke="#111" stroke-width="0.85" />
<line x1="75.66" y1="614.81" x2="76.38" y2="616.98" stroke="#111" stroke-width="0.85" />
<polygon points="91.02,612.76 82.48,625.01 84.92,626.39" fill="#111" />
<polyline points="94.53,611.83 106.9,619.2 122.05,611.8 137.2,619.2 152.35,611.8 167.5,619.2 182.65,611.8 197.8,619.2 212.95,611.8 228.1,619.2 243.25,611.8 258.4,619.2 273.55,611.8 288.7,619.2 303.85,611.8 319,619.2 334.15,611.8" fill="none" stroke="#111" stroke-width="1.05" stroke-linejoin="miter" />
<text x="92.3" y="612.84" font-size="6.5" text-anchor="middle" fill="#111" font-weight="normal"  stroke="#111" stroke-width="0.137">N</text>
<circle cx="96.33" cy="607.25" r="1.9" fill="none" stroke="#aaa" stroke-width="0.4"/>
<line x1="95.19" y1="607.25" x2="97.47" y2="607.25" stroke="#aaa" stroke-width="0.4" />
<line x1="96.33" y1="606.11" x2="96.33" y2="608.39" stroke="#aaa" stroke-width="0.4" />
<text transform="translate(38.6,614.7) scale(1,1.07)" font-size="9.2" fill="#111" stroke="#111" stroke-width="0.193">CTAB</text>
<line x1="145.9" y1="442.9" x2="328.23" y2="590.23" stroke="#111" stroke-width="1.15" />
<polygon points="332.9,594 325.76,591.7 329.15,587.5" fill="#111" />
<text transform="translate(250.4,513.5) rotate(38.94)" font-size="9.45" text-anchor="middle" fill="#111" dy="3.3" stroke="#111" stroke-width="0.198">Increased alkyl chain length</text>
<text x="10.6" y="652" font-size="18.5" text-anchor="start" fill="#000" font-weight="normal"  stroke="#000" stroke-width="0.35">g</text>
<rect x="42.4" y="670.8" width="187.1" height="152.2" fill="none" stroke="#1a1a1a" stroke-width="1.3"/>
<line x1="39.4" y1="823" x2="42.4" y2="823" stroke="#1a1a1a" stroke-width="1.2" />
<text x="37.6" y="826.9" font-size="10.5" text-anchor="end" fill="#1a1a1a" font-weight="normal"  stroke="#1a1a1a" stroke-width="0.221">0.14</text>
<line x1="39.4" y1="784.7" x2="42.4" y2="784.7" stroke="#1a1a1a" stroke-width="1.2" />
<text x="37.6" y="788.6" font-size="10.5" text-anchor="end" fill="#1a1a1a" font-weight="normal"  stroke="#1a1a1a" stroke-width="0.221">0.18</text>
<line x1="39.4" y1="746.4" x2="42.4" y2="746.4" stroke="#1a1a1a" stroke-width="1.2" />
<text x="37.6" y="750.3" font-size="10.5" text-anchor="end" fill="#1a1a1a" font-weight="normal"  stroke="#1a1a1a" stroke-width="0.221">0.22</text>
<line x1="39.4" y1="708.1" x2="42.4" y2="708.1" stroke="#1a1a1a" stroke-width="1.2" />
<text x="37.6" y="712" font-size="10.5" text-anchor="end" fill="#1a1a1a" font-weight="normal"  stroke="#1a1a1a" stroke-width="0.221">0.26</text>
<line x1="39.4" y1="669.8" x2="42.4" y2="669.8" stroke="#1a1a1a" stroke-width="1.2" />
<text x="37.6" y="673.7" font-size="10.5" text-anchor="end" fill="#1a1a1a" font-weight="normal"  stroke="#1a1a1a" stroke-width="0.221">0.30</text>
<line x1="47.7" y1="823" x2="47.7" y2="826" stroke="#1a1a1a" stroke-width="1.2" />
<text x="47.7" y="837" font-size="10.5" text-anchor="middle" fill="#1a1a1a" font-weight="normal"  stroke="#1a1a1a" stroke-width="0.221">0.00</text>
<line x1="99.6" y1="823" x2="99.6" y2="826" stroke="#1a1a1a" stroke-width="1.2" />
<text x="99.6" y="837" font-size="10.5" text-anchor="middle" fill="#1a1a1a" font-weight="normal"  stroke="#1a1a1a" stroke-width="0.221">0.01</text>
<line x1="151.5" y1="823" x2="151.5" y2="826" stroke="#1a1a1a" stroke-width="1.2" />
<text x="151.5" y="837" font-size="10.5" text-anchor="middle" fill="#1a1a1a" font-weight="normal"  stroke="#1a1a1a" stroke-width="0.221">0.02</text>
<line x1="203.4" y1="823" x2="203.4" y2="826" stroke="#1a1a1a" stroke-width="1.2" />
<text x="203.4" y="837" font-size="10.5" text-anchor="middle" fill="#1a1a1a" font-weight="normal"  stroke="#1a1a1a" stroke-width="0.221">0.03</text>
<text x="132.7" y="849.6" font-size="9.6" text-anchor="middle" fill="#1a1a1a" stroke="#1a1a1a" stroke-width="0.202">[CTAB]<tspan dy="-3.8" font-size="6">1/2</tspan><tspan dy="3.8"> (M</tspan><tspan dy="-3.8" font-size="6">1/2</tspan><tspan dy="3.8">)</tspan></text>
<text transform="translate(9.0,746.9) rotate(-90)" font-size="9.35" text-anchor="middle" fill="#1a1a1a" stroke="#1a1a1a" stroke-width="0.196">Reaction rate (mmol h<tspan dy="-3.5" font-size="6">-1</tspan><tspan dy="3.5"> cm</tspan><tspan dy="-3.5" font-size="6">-2</tspan><tspan dy="3.5">)</tspan></text>
<line x1="59" y1="798.6" x2="59" y2="815.6" stroke="#1a1a1a" stroke-width="1.3" />
<line x1="56.9" y1="798.6" x2="61.1" y2="798.6" stroke="#1a1a1a" stroke-width="1.3" />
<line x1="56.9" y1="815.6" x2="61.1" y2="815.6" stroke="#1a1a1a" stroke-width="1.3" />
<circle cx="59" cy="806.9" r="2.25" fill="#fff" stroke="#000" stroke-width="1.9"/>
<line x1="64.2" y1="799.7" x2="64.2" y2="813.3" stroke="#1a1a1a" stroke-width="1.3" />
<line x1="62.1" y1="799.7" x2="66.3" y2="799.7" stroke="#1a1a1a" stroke-width="1.3" />
<line x1="62.1" y1="813.3" x2="66.3" y2="813.3" stroke="#1a1a1a" stroke-width="1.3" />
<circle cx="64.2" cy="807.3" r="2.25" fill="#fff" stroke="#000" stroke-width="1.9"/>
<line x1="73.6" y1="791" x2="73.6" y2="798" stroke="#1a1a1a" stroke-width="1.3" />
<line x1="71.5" y1="791" x2="75.7" y2="791" stroke="#1a1a1a" stroke-width="1.3" />
<line x1="71.5" y1="798" x2="75.7" y2="798" stroke="#1a1a1a" stroke-width="1.3" />
<circle cx="73.6" cy="794.2" r="2.25" fill="#fff" stroke="#000" stroke-width="1.9"/>
<line x1="56.2" y1="810.4" x2="213.6" y2="697" stroke="#5BA8A0" stroke-width="5.3" />
<line x1="84.4" y1="789.8" x2="84.4" y2="805" stroke="#1a1a1a" stroke-width="1.3" />
<line x1="82.3" y1="789.8" x2="86.5" y2="789.8" stroke="#1a1a1a" stroke-width="1.3" />
<line x1="82.3" y1="805" x2="86.5" y2="805" stroke="#1a1a1a" stroke-width="1.3" />
<circle cx="84.4" cy="797.4" r="2.25" fill="#fff" stroke="#000" stroke-width="1.9"/>
<line x1="99.6" y1="770" x2="99.6" y2="777.3" stroke="#1a1a1a" stroke-width="1.3" />
<line x1="97.5" y1="770" x2="101.7" y2="770" stroke="#1a1a1a" stroke-width="1.3" />
<line x1="97.5" y1="777.3" x2="101.7" y2="777.3" stroke="#1a1a1a" stroke-width="1.3" />
<circle cx="99.6" cy="773.4" r="2.25" fill="#fff" stroke="#000" stroke-width="1.9"/>
<line x1="163.8" y1="728.4" x2="163.8" y2="749.2" stroke="#1a1a1a" stroke-width="1.3" />
<line x1="161.7" y1="728.4" x2="165.9" y2="728.4" stroke="#1a1a1a" stroke-width="1.3" />
<line x1="161.7" y1="749.2" x2="165.9" y2="749.2" stroke="#1a1a1a" stroke-width="1.3" />
<circle cx="163.8" cy="738.6" r="2.25" fill="#fff" stroke="#000" stroke-width="1.9"/>
<line x1="211.9" y1="684.2" x2="211.9" y2="699.4" stroke="#1a1a1a" stroke-width="1.3" />
<line x1="209.8" y1="684.2" x2="214" y2="684.2" stroke="#1a1a1a" stroke-width="1.3" />
<line x1="209.8" y1="699.4" x2="214" y2="699.4" stroke="#1a1a1a" stroke-width="1.3" />
<circle cx="211.9" cy="691.8" r="2.25" fill="#fff" stroke="#000" stroke-width="1.9"/>
<text x="51.2" y="688.9" font-size="12.2" fill="#1a1a1a" stroke="#1a1a1a" stroke-width="0.240">R<tspan dy="-4.8" font-size="8.6">2</tspan><tspan dy="4.8">=0.982</tspan></text>
<text x="246.5" y="657.5" font-size="18.5" text-anchor="start" fill="#000" font-weight="normal"  stroke="#000" stroke-width="0.35">h</text>
<defs><linearGradient id="hg" x1="0" y1="0" x2="0" y2="1"><stop offset="0" stop-color="#02ABEB"/><stop offset="0.5" stop-color="#55C3EE"/><stop offset="1" stop-color="#D3EEF9"/></linearGradient></defs>
<rect x="249.1" y="699" width="186.9" height="86" fill="url(#hg)"/>
<rect x="249.1" y="785" width="186.9" height="9" fill="#A6A6A6"/>
<path d="M267,699 C260.4,710 261.4,722 269.9,751.5" fill="none" stroke="#000" stroke-width="1.5"/>
<circle cx="270.2" cy="766.4" r="14.3" fill="#FFC000" stroke="#000" stroke-width="1.9"/>
<line x1="265.8" y1="767.1" x2="274.6" y2="767.1" stroke="#000" stroke-width="1.6" />
<line x1="270.2" y1="762.7" x2="270.2" y2="771.5" stroke="#000" stroke-width="1.6" />
<path d="M305.5,699 C298.9,710 299.9,722 308.4,751.5" fill="none" stroke="#000" stroke-width="1.5"/>
<circle cx="308.7" cy="766.4" r="14.3" fill="#FFC000" stroke="#000" stroke-width="1.9"/>
<line x1="304.3" y1="767.1" x2="313.1" y2="767.1" stroke="#000" stroke-width="1.6" />
<line x1="308.7" y1="762.7" x2="308.7" y2="771.5" stroke="#000" stroke-width="1.6" />
<path d="M344.1,699 C337.5,710 338.5,722 347,751.5" fill="none" stroke="#000" stroke-width="1.5"/>
<circle cx="347.3" cy="766.4" r="14.3" fill="#FFC000" stroke="#000" stroke-width="1.9"/>
<line x1="342.9" y1="767.1" x2="351.7" y2="767.1" stroke="#000" stroke-width="1.6" />
<line x1="347.3" y1="762.7" x2="347.3" y2="771.5" stroke="#000" stroke-width="1.6" />
<line x1="281.2" y1="790" x2="289.8" y2="790" stroke="#111" stroke-width="1.8" />
<line x1="317.5" y1="790" x2="326.1" y2="790" stroke="#111" stroke-width="1.8" />
<line x1="354.2" y1="790" x2="362.8" y2="790" stroke="#111" stroke-width="1.8" />
<line x1="390.6" y1="790" x2="399.2" y2="790" stroke="#111" stroke-width="1.8" />
<polyline points="420.3,709.6 433,717.3 433,732.9 420.3,740.6 408.5,732.9 408.5,717.3 420.3,709.6" fill="none" stroke="#1C3442" stroke-width="1.2" stroke-linejoin="miter" />
<line x1="421.47" y1="713.06" x2="429.66" y2="718.03" stroke="#1C3442" stroke-width="1" />
<line x1="429.66" y1="732.17" x2="421.47" y2="737.14" stroke="#1C3442" stroke-width="1" />
<line x1="410.68" y1="730.2" x2="410.68" y2="720" stroke="#1C3442" stroke-width="1" />
<polyline points="408.5,732.9 395.4,740.6 395.4,751.8" fill="none" stroke="#1C3442" stroke-width="1.2" stroke-linejoin="miter" />
<circle cx="391.8" cy="739.8" r="1" fill="#111" />
<text x="393.5" y="758.7" font-size="6.4" text-anchor="start" fill="#33444c" font-weight="normal"  stroke="#33444c" stroke-width="0.134">OH</text>
<line x1="368.35" y1="763.06" x2="386.65" y2="758.24" stroke="#A21FD0" stroke-width="1.2" stroke-dasharray="2.6 1.8"/>
<polygon points="364,764.2 369.01,765.57 367.69,760.54" fill="#A21FD0" />
<polygon points="391,757.1 387.31,760.76 385.99,755.73" fill="#A21FD0" />
<line x1="374.6" y1="802.5" x2="396.2" y2="802.5" stroke="#A21FD0" stroke-width="1.2" stroke-dasharray="2.6 1.8"/>
<polygon points="370.1,802.5 374.6,805.1 374.6,799.9" fill="#A21FD0" />
<polygon points="400.7,802.5 396.2,805.1 396.2,799.9" fill="#A21FD0" />
<text x="337.6" y="817.6" font-size="11.9" text-anchor="start" fill="#A21FD0" font-weight="normal"  stroke="#A21FD0" stroke-width="0.240">Dipolar interaction</text>
<text x="440.2" y="656.2" font-size="18.5" text-anchor="start" fill="#000" font-weight="normal"  stroke="#000" stroke-width="0.35">i</text>
<circle cx="527.7" cy="791.5" r="28.6" fill="#EBEBE6"/>
<polygon points="504.13,768.43 672.73,683.73 666.67,671.67 498.07,756.37" fill="#FDEBEB" />
<rect x="485.7" y="668.5" width="191.5" height="155.5" fill="none" stroke="#1a1a1a" stroke-width="1.3"/>
<line x1="482.7" y1="824" x2="485.7" y2="824" stroke="#1a1a1a" stroke-width="1.2" />
<text x="481.5" y="827.9" font-size="10.5" text-anchor="end" fill="#1a1a1a" font-weight="normal"  stroke="#1a1a1a" stroke-width="0.221">0.0</text>
<line x1="482.7" y1="772.22" x2="485.7" y2="772.22" stroke="#1a1a1a" stroke-width="1.2" />
<text x="481.5" y="776.12" font-size="10.5" text-anchor="end" fill="#1a1a1a" font-weight="normal"  stroke="#1a1a1a" stroke-width="0.221">0.1</text>
<line x1="482.7" y1="720.44" x2="485.7" y2="720.44" stroke="#1a1a1a" stroke-width="1.2" />
<text x="481.5" y="724.34" font-size="10.5" text-anchor="end" fill="#1a1a1a" font-weight="normal"  stroke="#1a1a1a" stroke-width="0.221">0.2</text>
<line x1="482.7" y1="668.66" x2="485.7" y2="668.66" stroke="#1a1a1a" stroke-width="1.2" />
<text x="481.5" y="672.56" font-size="10.5" text-anchor="end" fill="#1a1a1a" font-weight="normal"  stroke="#1a1a1a" stroke-width="0.221">0.3</text>
<line x1="484.2" y1="798.11" x2="485.7" y2="798.11" stroke="#1a1a1a" stroke-width="1.2" />
<line x1="484.2" y1="746.33" x2="485.7" y2="746.33" stroke="#1a1a1a" stroke-width="1.2" />
<line x1="484.2" y1="694.55" x2="485.7" y2="694.55" stroke="#1a1a1a" stroke-width="1.2" />
<line x1="485.7" y1="824" x2="485.7" y2="827.3" stroke="#1a1a1a" stroke-width="1.2" />
<text x="485.7" y="839" font-size="10.5" text-anchor="middle" fill="#1a1a1a" font-weight="normal"  stroke="#1a1a1a" stroke-width="0.221">0.0</text>
<line x1="533.58" y1="824" x2="533.58" y2="827.3" stroke="#1a1a1a" stroke-width="1.2" />
<text x="533.58" y="839" font-size="10.5" text-anchor="middle" fill="#1a1a1a" font-weight="normal"  stroke="#1a1a1a" stroke-width="0.221">0.5</text>
<line x1="581.45" y1="824" x2="581.45" y2="827.3" stroke="#1a1a1a" stroke-width="1.2" />
<text x="581.45" y="839" font-size="10.5" text-anchor="middle" fill="#1a1a1a" font-weight="normal"  stroke="#1a1a1a" stroke-width="0.221">1.0</text>
<line x1="629.33" y1="824" x2="629.33" y2="827.3" stroke="#1a1a1a" stroke-width="1.2" />
<text x="629.33" y="839" font-size="10.5" text-anchor="middle" fill="#1a1a1a" font-weight="normal"  stroke="#1a1a1a" stroke-width="0.221">1.5</text>
<line x1="677.2" y1="824" x2="677.2" y2="827.3" stroke="#1a1a1a" stroke-width="1.2" />
<text x="677.2" y="839" font-size="10.5" text-anchor="middle" fill="#1a1a1a" font-weight="normal"  stroke="#1a1a1a" stroke-width="0.221">2.0</text>
<line x1="509.64" y1="824" x2="509.64" y2="825.8" stroke="#1a1a1a" stroke-width="1.2" />
<line x1="557.51" y1="824" x2="557.51" y2="825.8" stroke="#1a1a1a" stroke-width="1.2" />
<line x1="605.39" y1="824" x2="605.39" y2="825.8" stroke="#1a1a1a" stroke-width="1.2" />
<line x1="653.26" y1="824" x2="653.26" y2="825.8" stroke="#1a1a1a" stroke-width="1.2" />
<text x="564" y="851.2" font-size="9.6" fill="#1a1a1a" stroke="#1a1a1a" stroke-width="0.202">1/<tspan font-style="italic">R</tspan><tspan dy="2" font-size="6">ct</tspan><tspan dy="-2"> (Ω</tspan><tspan dy="-3.8" font-size="5.6">-1</tspan><tspan dy="3.8">)</tspan></text>
<text transform="translate(457,746.2) rotate(-90)" font-size="8.9" text-anchor="middle" fill="#1a1a1a" stroke="#1a1a1a" stroke-width="0.187">Rate of hydrobenzoin (mmol h<tspan dy="-3.2" font-size="5.5">-1</tspan><tspan dy="3.2"> cm</tspan><tspan dy="-3.2" font-size="5.5">-2</tspan><tspan dy="3.2">)</tspan></text>
<circle cx="514.4" cy="755.5" r="2.7" fill="#EFA05A" />
<circle cx="521.9" cy="750.4" r="2.7" fill="#EFA05A" />
<circle cx="530.6" cy="751" r="2.7" fill="#EFA05A" />
<circle cx="564.6" cy="735.4" r="2.7" fill="#35B9B2" />
<circle cx="572.5" cy="727.2" r="2.7" fill="#35B9B2" />
<circle cx="663.2" cy="679.8" r="2.7" fill="#A565E0" />
<circle cx="507.5" cy="804" r="2.7" fill="#64AAEE" />
<circle cx="518.4" cy="776.5" r="2.7" fill="#64AAEE" />
<circle cx="536.9" cy="769.2" r="2.7" fill="#64AAEE" />
<line x1="514.2" y1="756.8" x2="664.2" y2="681.3" stroke="#000" stroke-width="1.8" stroke-dasharray="1.7 3.8"/>
<text transform="translate(631.9,682.2) scale(1,1.03)" font-size="10.1" fill="#111" stroke="#111" stroke-width="0.212">CTAB</text>
<text transform="translate(538.5,724) scale(1,1.03)" font-size="10.1" fill="#111" stroke="#111" stroke-width="0.212">EHDAB</text>
<text transform="translate(568.4,744.8) scale(1,1.03)" font-size="10.1" fill="#111" stroke="#111" stroke-width="0.212">DTAB</text>
<text transform="translate(491.5,746) scale(1,1.03)" font-size="10.1" fill="#111" stroke="#111" stroke-width="0.212">HDBAB</text>
<text transform="translate(489.6,765.5) scale(1,1.03)" font-size="10.1" fill="#111" stroke="#111" stroke-width="0.212">None</text>
<text transform="translate(534.4,759.7) scale(1,1.03)" font-size="10.1" fill="#111" stroke="#111" stroke-width="0.212">OTAB</text>
<text transform="translate(541.4,777.2) scale(1,1.03)" font-size="10.1" fill="#111" stroke="#111" stroke-width="0.212">TBAB</text>
<text transform="translate(506.8,788.2) scale(1,1.03)" font-size="10.1" fill="#111" stroke="#111" stroke-width="0.212">BTAB</text>
<text transform="translate(512.2,812.6) scale(1,1.03)" font-size="10.1" fill="#111" stroke="#111" stroke-width="0.212">TMAB</text>
<text x="496.9" y="686.5" font-size="12.2" fill="#1a1a1a" stroke="#1a1a1a" stroke-width="0.240">R<tspan dy="-4.8" font-size="8.6">2</tspan><tspan dy="4.8">=0.993</tspan></text>
</svg>
</body></html>
